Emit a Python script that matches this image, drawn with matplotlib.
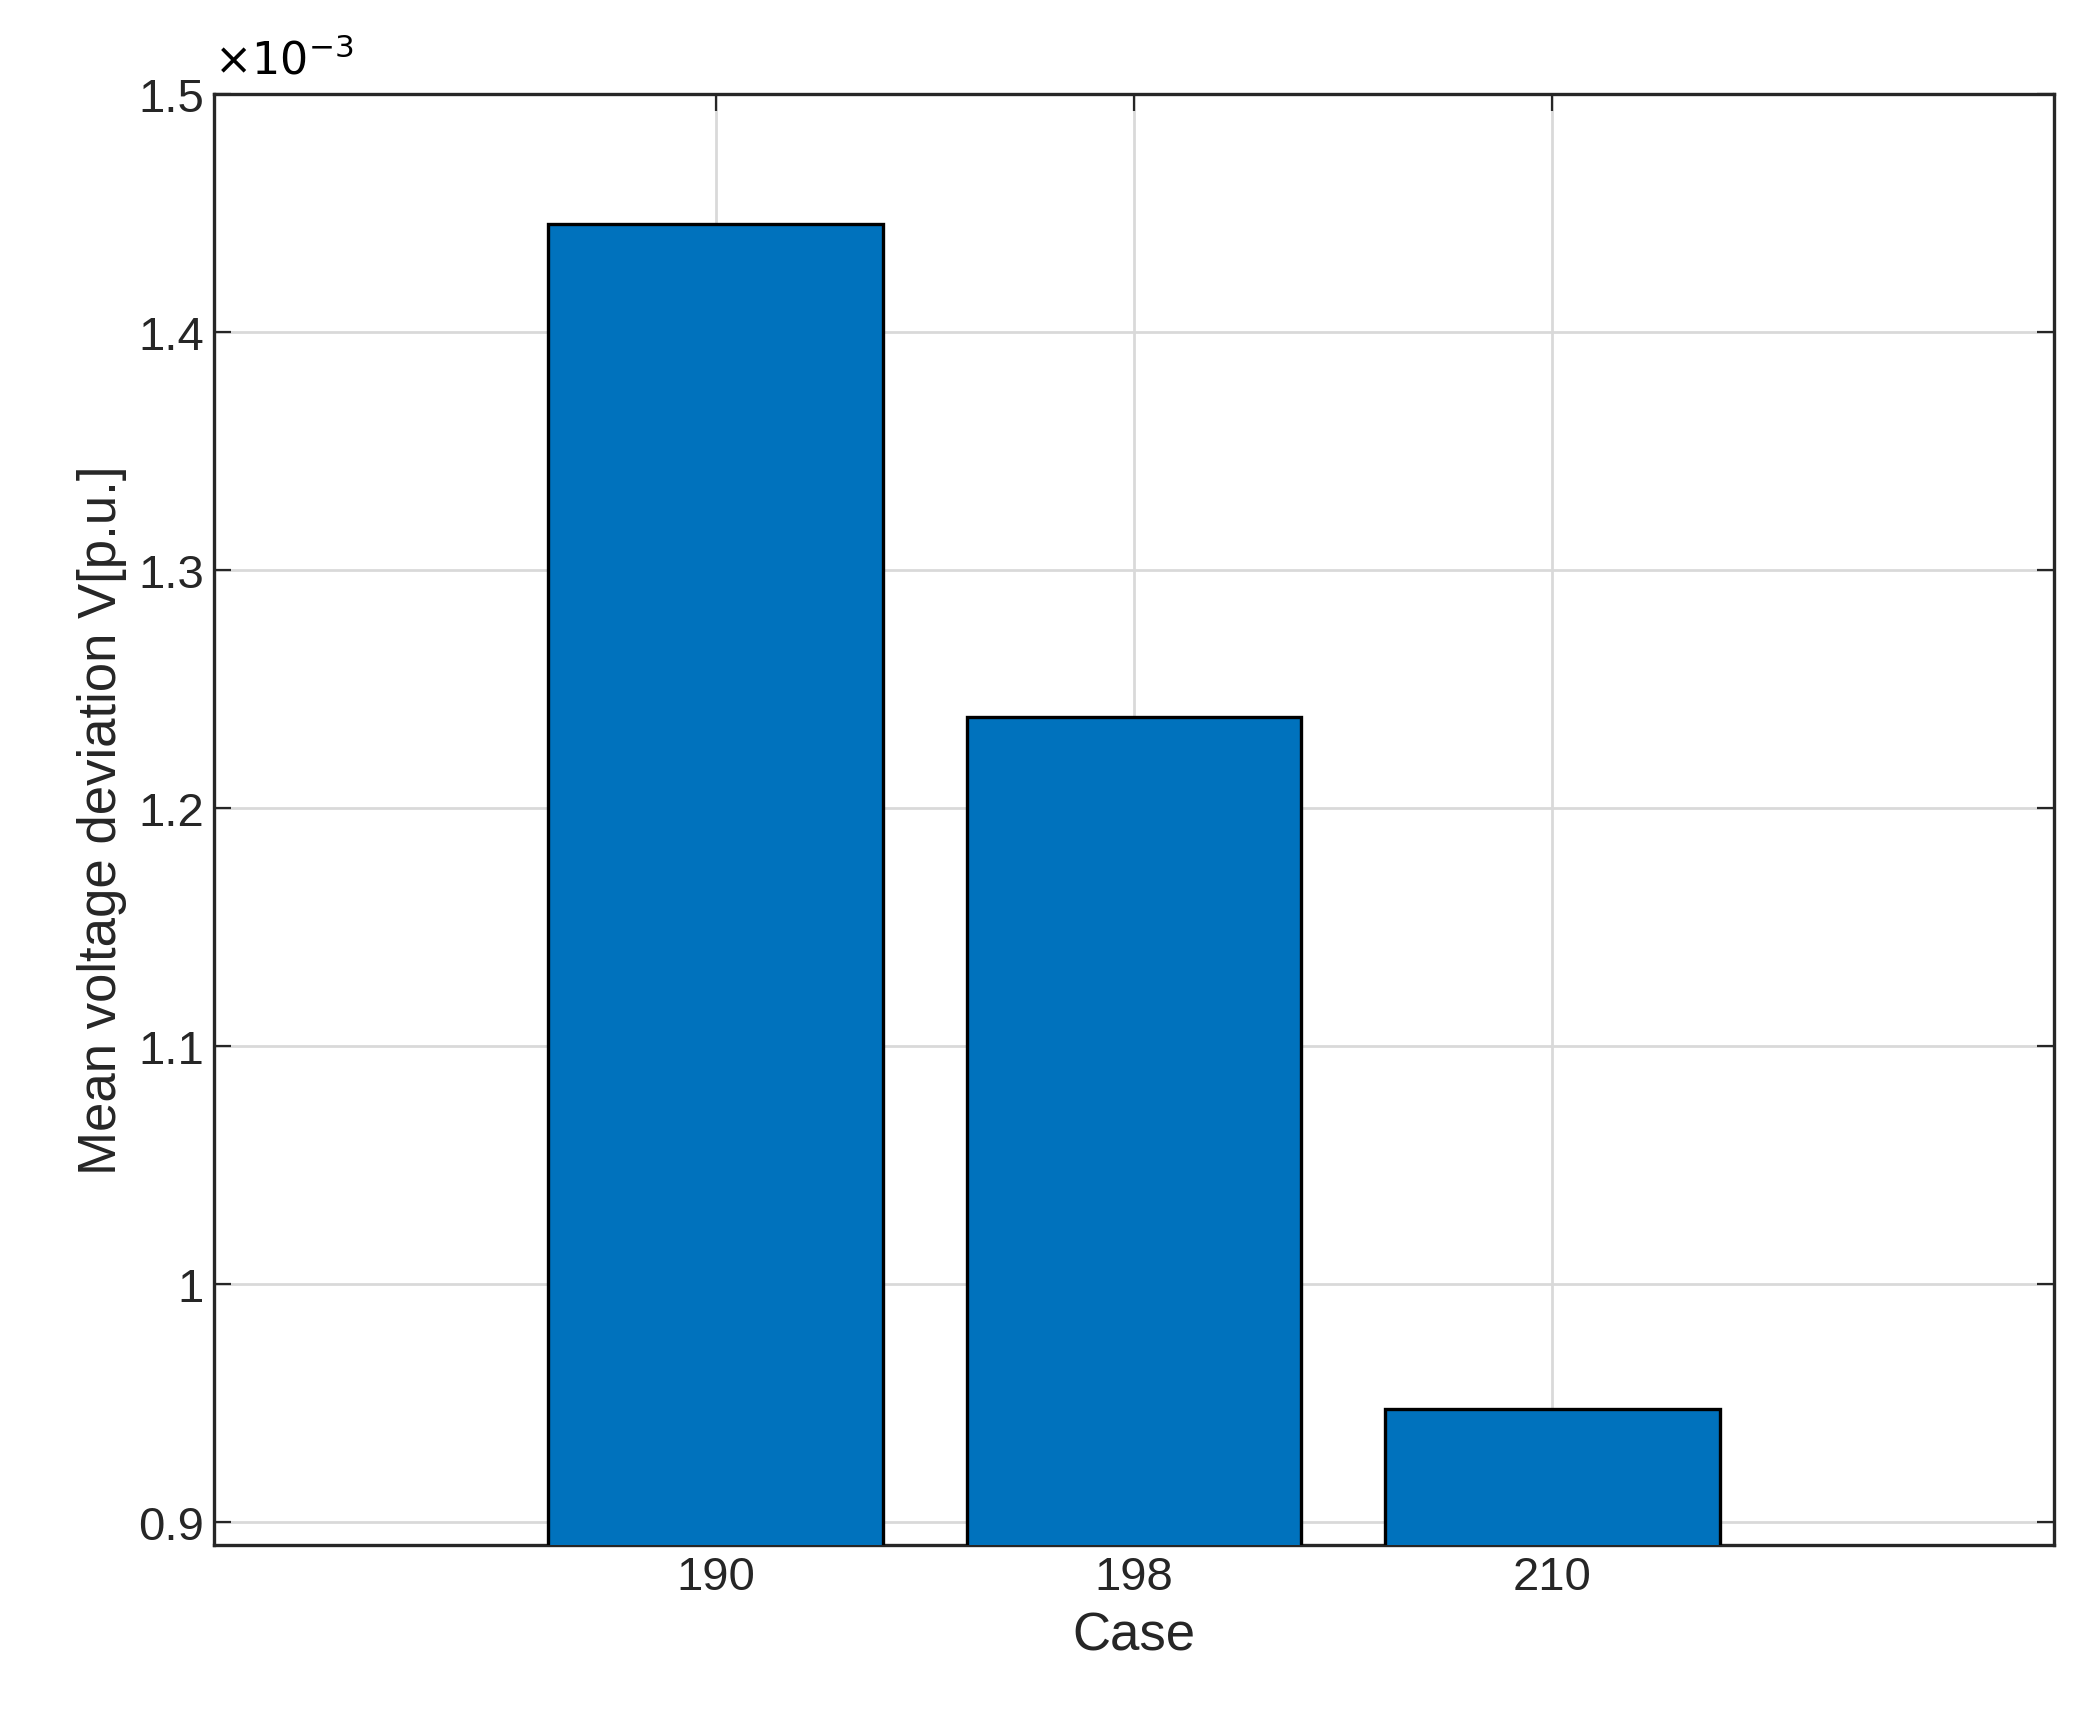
import numpy as np
import matplotlib.pyplot as plt

plt.rcParams['font.family'] = ['Liberation Sans', 'DejaVu Sans']

cases = ['190', '198', '210']
deviation = [1.4453e-3, 1.2382e-3, 0.9474e-3]

fig = plt.figure(figsize=(10.365, 8.62), dpi=200)
ax = fig.add_axes([0.103, 0.103, 0.888, 0.842])
x = np.arange(1, len(cases) + 1)
ax.bar(x, deviation, width=0.8, color='#0072BD', edgecolor='black', linewidth=1.2, zorder=3)
ax.set_xlim(-0.2, 4.2)
ax.set_ylim(0.89e-3, 1.5e-3)
ax.set_xticks(x)
ax.set_xticklabels(cases)
yt = np.arange(0.9, 1.51, 0.1)
ax.set_yticks(yt * 1e-3)
ax.set_yticklabels(['%g' % round(v, 1) if round(v, 1) != 1 else '1' for v in yt])
ax.text(0.0, 1.008, r'$\times10^{-3}$', transform=ax.transAxes, fontsize=16, va='bottom')
ax.grid(True, color='#d9d9d9', linewidth=1, zorder=0)
ax.tick_params(labelsize=17, direction='in', top=True, right=True, length=6, color='#262626', labelcolor='#262626')
for s in ax.spines.values():
    s.set_linewidth(1.2)
    s.set_color('#262626')
ax.set_xlabel('Case', fontsize=19, color='#262626')
ax.set_ylabel('Mean voltage deviation V[p.u.]', fontsize=19, color='#262626')
fig.savefig('out.png')
